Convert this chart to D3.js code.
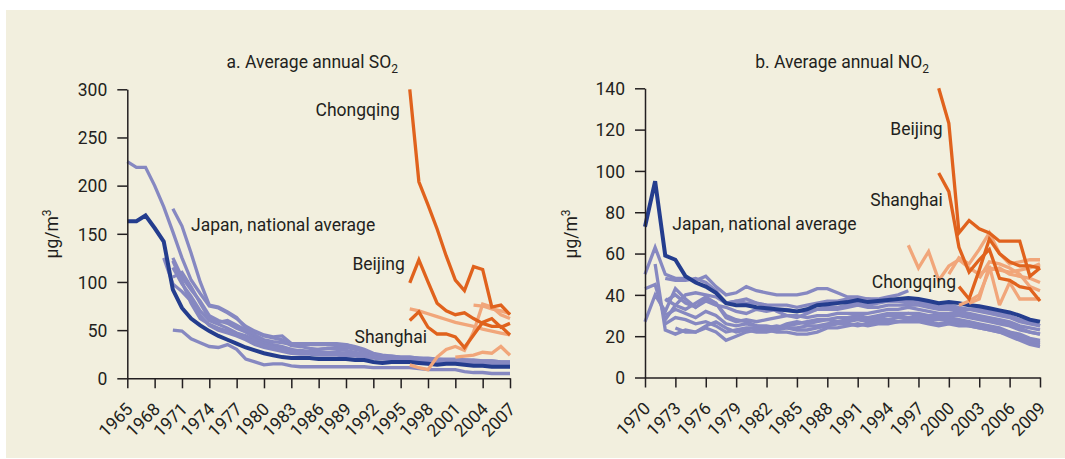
<!DOCTYPE html>
<html>
<head>
<meta charset="utf-8">
<script src="https://cdn.jsdelivr.net/npm/d3@7"></script>
<style>
  html, body { margin: 0; padding: 0; background: #ffffff; }
  svg { display: block; }
  text { font-family: Roboto, "Noto Sans", sans-serif; fill: #231f20; }
</style>
</head>
<body>
<svg id="chart" width="1065" height="459"></svg>
<script>
// ---- Panel a: average annual SO2 (µg/m3) ----
const so2TickYears = [1965, 1968, 1971, 1974, 1977, 1980, 1983, 1986, 1989, 1992, 1995, 1998, 2001, 2004, 2007];
const so2TickValues = [0, 50, 100, 150, 200, 250, 300];

// Japan, national average, 1965–2007
const so2JapanAverage = [163, 163, 169, 156, 142, 92, 73, 62, 55, 49, 44, 40, 36, 32, 29, 26, 24, 22, 21, 21,
  21, 20, 20, 20, 20, 19, 19, 17, 16, 17, 17, 17, 16, 15, 14, 15, 15, 14, 13, 13, 12, 12, 12];

// Japanese cities: [first year, values]
const so2JapanCities = [
  [1965, [225, 219, 219, 200, 178, 152, 125, 102, 88, 75, 73, 68, 62, 54, 49, 45, 43, 44, 36, 36, 36, 36, 36, 36,
    35, 32, 28, 25, 23, 23, 22, 22, 21, 21, 20, 20, 20, 19, 19, 18, 18, 17, 17]],
  [1970, [176, 158, 130, 100, 76, 74, 69, 63, 52, 48, 44, 42, 40, 34, 33, 31, 30, 31, 32, 32, 30, 28, 25, 23, 22,
    21, 21, 20, 19, 18, 18, 18, 17, 17, 16, 16, 15, 15]],
  [1970, [50, 49, 41, 37, 33, 32, 35, 30, 20, 17, 14, 15, 15, 13, 12, 12, 12, 12, 12, 12, 12, 12, 11, 11, 11,
    11, 11, 10, 9, 9, 9, 9, 7, 6, 6, 5, 5, 5]],
  [1970, [125, 105, 92, 80, 65, 60, 57, 52, 48, 42, 38, 35, 33, 30, 28, 27, 27, 27, 27, 26, 25, 24, 22, 21, 20,
    20, 19, 19, 18, 17, 17, 17, 16, 16, 15, 15, 14, 14]],
  [1970, [115, 98, 85, 70, 60, 56, 52, 47, 44, 40, 36, 33, 31, 29, 29, 28, 30, 31, 30, 29, 27, 25, 23, 22, 21,
    21, 20, 19, 19, 18, 18, 18, 18, 17, 17, 16, 16, 16]],
  [1970, [105, 110, 95, 78, 62, 58, 60, 55, 50, 45, 40, 38, 37, 35, 35, 35, 35, 35, 35, 35, 33, 30, 26, 24, 23,
    22, 22, 21, 20, 20, 19, 19, 19, 18, 18, 18, 17, 17]],
  [1969, [125, 98, 90, 80, 65, 55, 50, 47, 44, 40, 35, 32, 30, 28, 26, 25, 25, 24, 24, 24, 23, 23, 22, 21, 20,
    20, 19, 19, 18, 18, 17, 17, 17, 16, 16, 16, 15, 15, 15]],
  [1970, [122, 100, 78, 62, 56, 52, 49, 46, 42, 38, 34, 32, 30, 28, 27, 26, 26, 25, 25, 25, 24, 24, 22, 21, 21,
    20, 20, 19, 19, 19, 18, 18, 18, 17, 17, 17, 16, 16]]
];

// Chinese cities
const so2Chongqing = [300, 204, 180, 155, 127, 102, 91, 116, 113, 74, 76, 66];   // 1996–2007
const so2Beijing = [99, 123, 100, 78, 70, 66, 68, 62, 57, 54, 54, 45];           // 1996–2007
const so2Shanghai = [60, 69, 53, 46, 46, 43, 32, 45, 58, 62, 53, 57];            // 1996–2007
const so2OtherChina = [
  [1996, [72, 70, 67, 64, 61, 58, 56, 54, 51, 49, 47, 45]],
  [2003, [76, 75, 72, 70, 67]],
  [1996, [14, 11, 9, 22, 30, 33, 29, 48, 77, 74, 66, 62]],
  [2001, [22, 23, 24, 27, 26, 33, 24]]
];

// ---- Panel b: average annual NO2 (µg/m3) ----
const no2TickYears = [1970, 1973, 1976, 1979, 1982, 1985, 1988, 1991, 1994, 1997, 2000, 2003, 2006, 2009];
const no2TickValues = [0, 20, 40, 60, 80, 100, 120, 140];

// Japan, national average, 1970–2009
const no2JapanAverage = [73, 95, 59, 57, 49, 46, 44, 41, 36, 35, 35, 34, 33.5, 33, 32.5, 32, 33, 35, 35.5, 36,
  36.5, 37.5, 36.5, 37, 37.5, 38, 38.5, 38, 37, 36, 36.5, 36, 35, 34.5, 33.5, 32.5, 31.5, 30, 28, 27];

const no2JapanCities = [
  [1970, [50, 63, 50, 48, 48, 47, 49, 44, 40, 41, 44, 42, 41, 40, 40, 40, 41, 43, 43, 41, 39, 39, 38, 38, 39, 40, 42]],
  [1970, [43, 45, 28, 35, 40, 41, 40, 39, 36, 37, 36, 36, 35, 35, 35, 34, 35, 36, 37, 37, 38, 38, 38, 37, 37,
    37, 37, 36, 35, 34, 34, 33, 33, 32, 31, 30, 29, 27, 26, 25]],
  [1970, [27, 40, 32, 43, 38, 34, 38, 36, 30, 28, 27, 25, 24, 23, 25, 26, 27, 28, 28, 29, 29, 30, 29, 30, 31,
    31, 31, 31, 30, 30, 30, 30, 29, 28, 27, 26, 25, 23, 22, 21]],
  [1971, [55, 23, 21, 23, 22, 24, 22, 18, 20, 22, 23, 23, 22, 22, 21, 21, 22, 24, 24, 25, 26, 25, 26, 26, 27,
    28, 28, 27, 26, 27, 26, 25, 24, 23, 22, 21, 19, 17, 16]],
  [1972, [37, 40, 36, 34, 37, 35, 34, 32, 31, 33, 32, 33, 33, 32, 32, 33, 33, 33, 34, 35, 34, 34, 35, 35, 35,
    35, 34, 33, 33, 32, 31, 30, 29, 28, 27, 25, 24, 23]],
  [1972, [30, 33, 31, 29, 32, 30, 26, 25, 26, 25, 25, 24, 26, 27, 26, 27, 28, 27, 28, 29, 28, 29, 30, 30, 31,
    30, 29, 29, 29, 28, 27, 26, 25, 24, 22, 21, 19, 18]],
  [1973, [24, 22, 22, 25, 27, 24, 22, 23, 22, 22, 23, 24, 24, 25, 25, 26, 27, 27, 28, 27, 28, 28, 29, 29, 29,
    28, 28, 28, 27, 26, 25, 24, 23, 22, 20, 18, 17]],
  [1972, [38, 35, 33, 36, 39, 36, 29, 27, 28, 27, 28, 29, 30, 30, 29, 30, 30, 31, 31, 31, 31, 32, 33, 33, 34,
    33, 32, 31, 31, 31, 30, 29, 28, 27, 26, 24, 22, 21]],
  [1972, [26, 29, 28, 26, 27, 25, 22, 23, 24, 24, 24, 25, 24, 23, 23, 24, 25, 26, 26, 25, 26, 27, 27, 27, 27,
    27, 26, 25, 26, 25, 25, 24, 23, 22, 20, 18, 16, 15]],
  [1972, [48, 47, 47, 48, 46, 42, 36, 37, 38, 36, 35, 32, 30, 29, 31, 33, 34, 34, 35, 36, 35, 36, 37, 37, 36,
    37, 36, 35, 35, 34, 33, 33, 32, 31, 30, 28, 27, 25]]
];

const no2Beijing = [140, 123, 70, 76, 72, 70, 66, 66, 66, 49, 53];     // 1999–2009
const no2Shanghai = [99, 90, 63, 51, 57, 62, 48, 47, 44, 43, 37];      // 1999–2009
const no2Chongqing = [44, 38, 52, 67, 60, 56, 54, 54, 53];             // 2001–2009
const no2OtherChina = [
  [1996, [64, 53, 61, 47, 54, 57, 53, 50, 53, 52, 51, 52, 53, 55]],
  [2000, [50, 58, 55, 62, 70, 60, 55, 56, 57, 57]],
  [2002, [36, 38, 54, 35, 46, 38, 38, 38]],
  [2001, [35, 37, 40, 52, 53, 50, 49, 48, 46]],
  [2003, [48, 56, 55, 53, 50, 44, 42]]
];

// ---- drawing ----
const COLORS = {
  panel: "#f2efde",
  ink: "#231f20",
  japan: "#243d8e",
  japanCity: "#8688c1",
  china: "#e0621d",
  chinaCity: "#f1a67a"
};

const svg = d3.select("#chart");
svg.append("rect")
  .attr("x", 6).attr("y", 10)
  .attr("width", 1059).attr("height", 448)
  .attr("fill", COLORS.panel);

const toPoints = (start, values) => values.map((v, i) => ({ year: start + i, value: v }));

function drawPanel(cfg) {
  const x = d3.scaleLinear().domain(cfg.xDomain).range(cfg.xRange);
  const y = d3.scaleLinear().domain(cfg.yDomain).range(cfg.yRange);
  const g = svg.append("g");

  const line = d3.line().x(d => x(d.year)).y(d => y(d.value));

  const addLine = (pts, color, width) => g.append("path")
    .datum(pts)
    .attr("d", line)
    .attr("fill", "none")
    .attr("stroke", color)
    .attr("stroke-width", width)
    .attr("stroke-linejoin", "miter")
    .attr("stroke-miterlimit", 3);

  cfg.japanCities.forEach(([s, v]) => addLine(toPoints(s, v), COLORS.japanCity, 3.3));
  addLine(toPoints(cfg.japanStart, cfg.japanAverage), COLORS.japan, 4);
  cfg.otherChina.forEach(([s, v]) => addLine(toPoints(s, v), COLORS.chinaCity, 3.3));
  cfg.china.forEach(([s, v]) => addLine(toPoints(s, v), COLORS.china, 3.3));

  // axes
  const yAxis = d3.axisLeft(y).tickValues(cfg.yTicks).tickSize(10).tickSizeOuter(0).tickPadding(10);
  const xAxis = d3.axisBottom(x).tickValues(cfg.xTicks).tickSize(10).tickSizeOuter(0).tickFormat(d3.format("d"));

  const ya = g.append("g").attr("transform", `translate(${cfg.xRange[0]},0)`).call(yAxis);
  const xa = g.append("g").attr("transform", `translate(0,${cfg.yRange[0]})`).call(xAxis);

  [ya, xa].forEach(a => {
    a.select(".domain").attr("stroke", COLORS.ink).attr("stroke-width", 1.5);
    a.selectAll(".tick line").attr("stroke", COLORS.ink).attr("stroke-width", 1.5);
    a.selectAll("text").attr("fill", COLORS.ink)
      .style("font-family", "Roboto, sans-serif").style("font-size", "17.5px");
  });
  ya.selectAll("text").attr("dy", "0.36em");
  xa.selectAll("text")
    .attr("text-anchor", "end")
    .attr("x", 0).attr("y", 0).attr("dy", 0)
    .attr("transform", "translate(6,32) rotate(-45)");

  // title
  const t = g.append("text")
    .attr("x", cfg.titleX).attr("y", 68)
    .style("font-size", "17.5px");
  t.append("tspan").text(cfg.title);
  t.append("tspan").text("2").attr("dy", 5).style("font-size", "12px");

  // unit label
  const u = g.append("text")
    .attr("transform", `translate(${cfg.unitX},234) rotate(-90)`)
    .attr("text-anchor", "middle")
    .style("font-size", "17.5px");
  u.append("tspan").text("µg/m");
  u.append("tspan").text("3").attr("dy", -7).style("font-size", "12px");

  // series labels
  cfg.labels.forEach(l => {
    g.append("text")
      .attr("x", x(l.year) + l.dx)
      .attr("y", y(l.value))
      .attr("text-anchor", l.anchor)
      .style("font-size", "17.5px")
      .text(l.text);
  });
}

drawPanel({
  xDomain: [1965, 2007], xRange: [127.3, 510],
  yDomain: [0, 300], yRange: [378.3, 89.3],
  xTicks: so2TickYears, yTicks: so2TickValues,
  japanStart: 1965, japanAverage: so2JapanAverage,
  japanCities: so2JapanCities,
  otherChina: so2OtherChina,
  china: [[1996, so2Chongqing], [1996, so2Beijing], [1996, so2Shanghai]],
  title: "a. Average annual SO", titleX: 226.6, unitX: 58,
  labels: [
    { text: "Japan, national average", year: 1972, value: 153, dx: 0, anchor: "start" },
    { text: "Chongqing", year: 1996, value: 272, dx: -10, anchor: "end" },
    { text: "Beijing", year: 1996, value: 112, dx: -5, anchor: "end" },
    { text: "Shanghai", year: 1998, value: 36.6, dx: -1, anchor: "end" }
  ]
});

drawPanel({
  xDomain: [1970, 2009], xRange: [645, 1040],
  yDomain: [0, 140], yRange: [377.5, 88.3],
  xTicks: no2TickYears, yTicks: no2TickValues,
  japanStart: 1970, japanAverage: no2JapanAverage,
  japanCities: no2JapanCities,
  otherChina: no2OtherChina,
  china: [[1999, no2Beijing], [1999, no2Shanghai], [2001, no2Chongqing]],
  title: "b. Average annual NO", titleX: 755.2, unitX: 577,
  labels: [
    { text: "Japan, national average", year: 1972.7, value: 71.4, dx: 0, anchor: "start" },
    { text: "Beijing", year: 1999, value: 117.4, dx: 4, anchor: "end" },
    { text: "Shanghai", year: 1999, value: 83.2, dx: 4, anchor: "end" },
    { text: "Chongqing", year: 2001, value: 43.2, dx: -3, anchor: "end" }
  ]
});
</script>
</body>
</html>
